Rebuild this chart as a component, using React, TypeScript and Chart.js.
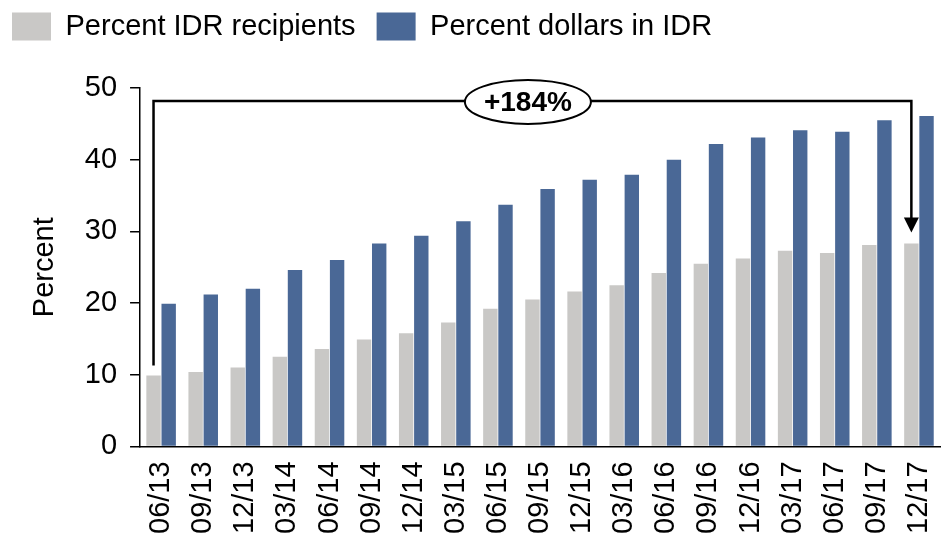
import React, { useEffect, useRef } from 'react';
import { Chart, registerables } from 'chart.js';

Chart.register(...registerables);

const categories = ['06/13', '09/13', '12/13', '03/14', '06/14', '09/14', '12/14', '03/15', '06/15', '09/15', '12/15', '03/16', '06/16', '09/16', '12/16', '03/17', '06/17', '09/17', '12/17'];
const recipients = [9.9, 10.4, 11.0, 12.5, 13.6, 14.9, 15.8, 17.3, 19.2, 20.5, 21.6, 22.5, 24.2, 25.5, 26.2, 27.3, 27.0, 28.1, 28.3];
const dollars = [19.9, 21.2, 22.0, 24.6, 26.0, 28.3, 29.4, 31.4, 33.7, 35.9, 37.2, 37.9, 40.0, 42.2, 43.1, 44.1, 43.9, 45.5, 46.1];
const seriesNames = ['Percent IDR recipients', 'Percent dollars in IDR'];
const yMin = 0;
const yMax = 50;
const yStep = 10;
const changeLabel = '+184%';
const bracketLevel = 48.2;

const FONT = '"Liberation Sans", Arial, sans-serif';
const GRAY = '#C9C8C6';
const BLUE = '#4A6896';

const bracketPlugin = {
  id: 'bracket',
  afterDatasetsDraw(chart: any) {
    const ctx = chart.ctx;
    const meta = chart.getDatasetMeta(0);
    const n = meta.data.length;
    const first = meta.data[0];
    const last = meta.data[n - 1];
    const y = chart.scales.y;
    const x1 = first.x;
    const x2 = last.x;
    const yTop = y.getPixelForValue(bracketLevel);
    const y1 = y.getPixelForValue(recipients[0]) - 10;
    const tip = y.getPixelForValue(recipients[n - 1]) - 11;
    ctx.save();
    ctx.strokeStyle = '#000';
    ctx.fillStyle = '#000';
    ctx.lineWidth = 2.5;
    ctx.beginPath();
    ctx.moveTo(x1, y1);
    ctx.lineTo(x1, yTop);
    ctx.lineTo(x2, yTop);
    ctx.lineTo(x2, tip - 14);
    ctx.stroke();
    ctx.beginPath();
    ctx.moveTo(x2 - 7.5, tip - 15);
    ctx.lineTo(x2 + 7.5, tip - 15);
    ctx.lineTo(x2, tip);
    ctx.closePath();
    ctx.fill();
    const cx = x1 + (x2 - x1) * 0.494;
    ctx.beginPath();
    ctx.ellipse(cx, yTop + 1, 63, 22, 0, 0, Math.PI * 2);
    ctx.fillStyle = '#fff';
    ctx.fill();
    ctx.lineWidth = 2;
    ctx.stroke();
    ctx.fillStyle = '#000';
    ctx.font = 'bold 28px ' + FONT;
    ctx.textAlign = 'center';
    ctx.textBaseline = 'middle';
    ctx.fillText(changeLabel, cx, yTop + 2);
    ctx.restore();
  },
};

export default function App() {
  const ref = useRef<HTMLCanvasElement>(null);
  useEffect(() => {
    if (!ref.current) return;
    const chart = new Chart(ref.current, {
      type: 'bar',
      data: {
        labels: categories,
        datasets: [
          { label: seriesNames[0], data: recipients, backgroundColor: GRAY, borderWidth: 0 },
          { label: seriesNames[1], data: dollars, backgroundColor: BLUE, borderWidth: 0 },
        ],
      },
      options: {
        responsive: false,
        animation: false,
        layout: { padding: { top: -9, left: -9, right: 4, bottom: -12 } },
        datasets: { bar: { categoryPercentage: 0.72, barPercentage: 0.95 } },
        plugins: {
          tooltip: { enabled: false },
          legend: {
            display: true,
            position: 'top',
            align: 'start',
            labels: {
              boxWidth: 39,
              boxHeight: 28,
              padding: 21,
              color: '#000',
              font: { family: FONT, size: 29 },
            },
          },
          title: {
            display: true,
            text: ' ',
            weight: 500,
            font: { size: 10, lineHeight: 1 },
            padding: { top: 27, bottom: 0 },
          },
        },
        scales: {
          x: {
            afterFit(scale: any) {
              scale.paddingRight = 0;
              scale.paddingLeft = 0;
            },
            grid: { display: false, drawTicks: false, tickLength: 0 },
            border: { display: true, color: '#000', width: 1.5 },
            ticks: {
              color: '#000',
              font: { family: FONT, size: 29 },
              maxRotation: 90,
              minRotation: 90,
              padding: 15,
              autoSkip: false,
            },
          },
          y: {
            min: yMin,
            max: yMax,
            grid: { display: true, drawOnChartArea: false, drawTicks: true, tickLength: 10, color: '#000', lineWidth: 1.5 },
            border: { display: true, color: '#000', width: 1.5 },
            ticks: {
              stepSize: yStep,
              color: '#000',
              font: { family: FONT, size: 29 },
              padding: 13,
            },
            title: {
              display: true,
              text: 'Percent',
              color: '#000',
              font: { family: FONT, size: 29 },
              padding: { top: 37, bottom: 9 },
            },
          },
        },
      },
      plugins: [bracketPlugin],
    } as any);
    return () => chart.destroy();
  }, []);
  return (
    <div style={{ position: 'fixed', left: 0, top: 0, width: 944, height: 537, background: '#fff' }}>
      <canvas ref={ref} width={944} height={537} style={{ display: 'block' }} />
    </div>
  );
}
